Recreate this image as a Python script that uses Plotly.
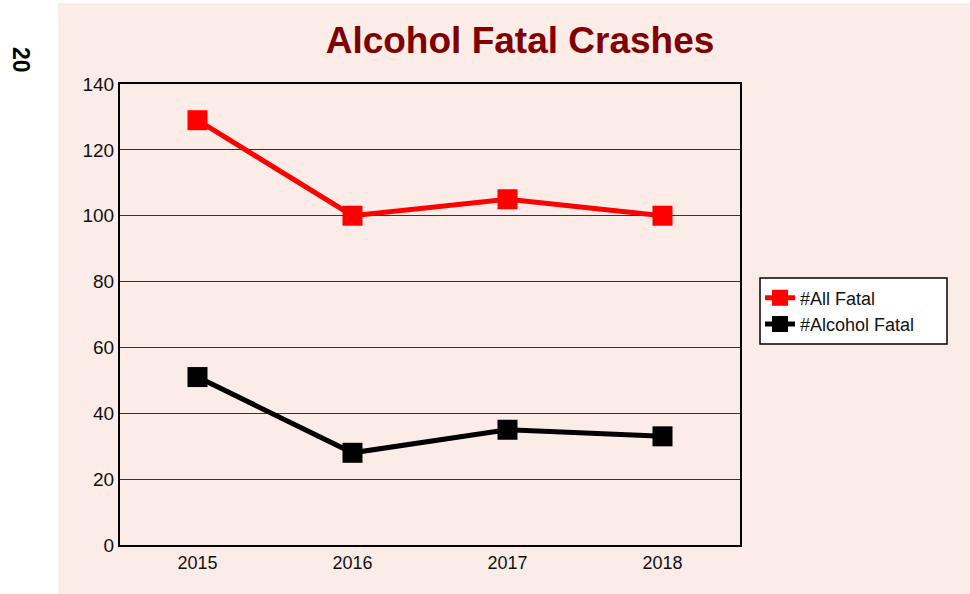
import plotly.graph_objects as go

# data
years = ["2015", "2016", "2017", "2018"]
all_fatal = [129, 100, 105, 100]
alcohol_fatal = [51, 28, 35, 33]

PINK = "#FCECE8"
W, H = 970, 594
L, R, T, B = 120, 230, 84, 49
pw, ph = W - L - R, H - T - B

def px_x(x):
    return (x - L) / pw

def px_y(y):
    return (H - B - y) / ph

fig = go.Figure()
fig.add_trace(go.Scatter(x=years, y=all_fatal, name="#All Fatal",
                         mode="lines+markers",
                         line=dict(color="#FF0000", width=5),
                         marker=dict(symbol="square", size=20, color="#FF0000")))
fig.add_trace(go.Scatter(x=years, y=alcohol_fatal, name="#Alcohol Fatal",
                         mode="lines+markers",
                         line=dict(color="#000000", width=5),
                         marker=dict(symbol="square", size=20, color="#000000")))

# pink panel behind the chart
fig.add_shape(type="rect", xref="paper", yref="paper",
              x0=px_x(58), x1=px_x(972), y0=px_y(596), y1=px_y(3),
              fillcolor=PINK, line=dict(width=0), layer="below")

# legend frame (wider than plotly's auto box)
fig.add_shape(type="rect", xref="paper", yref="paper",
              x0=px_x(760), x1=px_x(947), y0=px_y(344), y1=px_y(278),
              fillcolor="white", line=dict(color="black", width=1.5), layer="above")

fig.add_annotation(text="<b>20</b>", xref="paper", yref="paper",
                   x=px_x(6), y=px_y(45), showarrow=False, textangle=90,
                   font=dict(size=23, color="black", family="Liberation Sans, Arial"))

fig.update_layout(
    width=W, height=H,
    margin=dict(l=L, r=R, t=T, b=B),
    paper_bgcolor="white",
    plot_bgcolor=PINK,
    font=dict(family="Liberation Sans, Arial", color="#111111"),
    title=dict(text="<b>Alcohol Fatal Crashes</b>", xref="paper", x=px_x(520),
               xanchor="center", yref="container", y=1 - 40 / H, yanchor="middle",
               font=dict(size=37, color="#800000")),
    showlegend=True,
    legend=dict(x=px_x(760), xanchor="left", y=px_y(311), yanchor="middle",
                bgcolor="rgba(0,0,0,0)", borderwidth=0,
                font=dict(size=18, color="#111111"),
                itemwidth=30, tracegroupgap=2),
    xaxis=dict(type="category", range=[-0.5, 3.5], showgrid=False,
               showline=True, linecolor="black", linewidth=2, mirror=True,
               ticks="", tickfont=dict(size=18)),
    yaxis=dict(range=[0, 140], dtick=20, showgrid=True, gridcolor="#333333",
               gridwidth=1, showline=True, linecolor="black", linewidth=2,
               mirror=True, ticks="", tickfont=dict(size=19), zeroline=False),
)

fig.write_html("out.html", config={"displayModeBar": False},
               post_script="document.body.style.margin='0';")
